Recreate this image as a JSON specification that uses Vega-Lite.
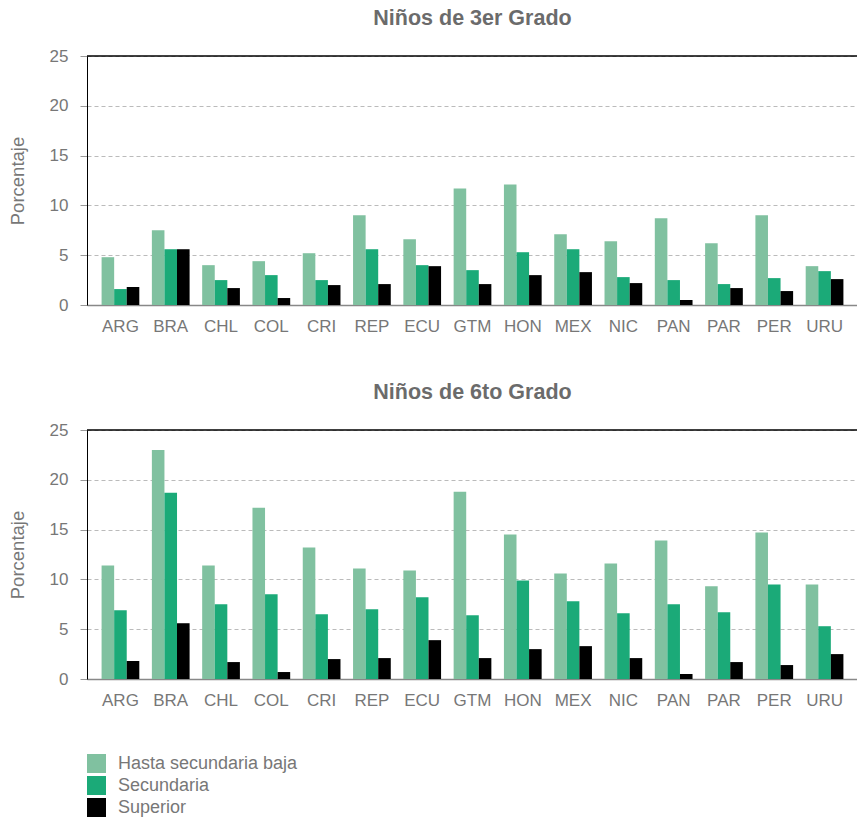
{
  "$schema": "https://vega.github.io/schema/vega-lite/v6.json",
  "padding": {"top": 7, "left": 8, "right": 0, "bottom": 0},
  "background": "white",
  "config": {
    "font": "Liberation Sans",
    "view": {"stroke": null},
    "title": {"fontSize": 21.5, "fontWeight": "bold", "color": "#6b6b6b", "anchor": "middle", "frame": "group", "offset": 18},
    "axis": {"labelFont": "Liberation Sans", "labelFontSize": 17, "labelColor": "#777777", "titleFont": "Liberation Sans", "titleFontSize": 18.5, "titleFontWeight": "normal", "titleColor": "#777777"},
    "legend": {"labelFont": "Liberation Sans", "labelFontSize": 18, "labelColor": "#777777", "labelLimit": 0},
    "concat": {"spacing": 47}
  },
  "data": {"values": [
    {"grado": "3", "pais": "ARG", "nivel": "Hasta secundaria baja", "valor": 4.8},
    {"grado": "3", "pais": "ARG", "nivel": "Secundaria", "valor": 1.6},
    {"grado": "3", "pais": "ARG", "nivel": "Superior", "valor": 1.8},
    {"grado": "3", "pais": "BRA", "nivel": "Hasta secundaria baja", "valor": 7.5},
    {"grado": "3", "pais": "BRA", "nivel": "Secundaria", "valor": 5.6},
    {"grado": "3", "pais": "BRA", "nivel": "Superior", "valor": 5.6},
    {"grado": "3", "pais": "CHL", "nivel": "Hasta secundaria baja", "valor": 4.0},
    {"grado": "3", "pais": "CHL", "nivel": "Secundaria", "valor": 2.5},
    {"grado": "3", "pais": "CHL", "nivel": "Superior", "valor": 1.7},
    {"grado": "3", "pais": "COL", "nivel": "Hasta secundaria baja", "valor": 4.4},
    {"grado": "3", "pais": "COL", "nivel": "Secundaria", "valor": 3.0},
    {"grado": "3", "pais": "COL", "nivel": "Superior", "valor": 0.7},
    {"grado": "3", "pais": "CRI", "nivel": "Hasta secundaria baja", "valor": 5.2},
    {"grado": "3", "pais": "CRI", "nivel": "Secundaria", "valor": 2.5},
    {"grado": "3", "pais": "CRI", "nivel": "Superior", "valor": 2.0},
    {"grado": "3", "pais": "REP", "nivel": "Hasta secundaria baja", "valor": 9.0},
    {"grado": "3", "pais": "REP", "nivel": "Secundaria", "valor": 5.6},
    {"grado": "3", "pais": "REP", "nivel": "Superior", "valor": 2.1},
    {"grado": "3", "pais": "ECU", "nivel": "Hasta secundaria baja", "valor": 6.6},
    {"grado": "3", "pais": "ECU", "nivel": "Secundaria", "valor": 4.0},
    {"grado": "3", "pais": "ECU", "nivel": "Superior", "valor": 3.9},
    {"grado": "3", "pais": "GTM", "nivel": "Hasta secundaria baja", "valor": 11.7},
    {"grado": "3", "pais": "GTM", "nivel": "Secundaria", "valor": 3.5},
    {"grado": "3", "pais": "GTM", "nivel": "Superior", "valor": 2.1},
    {"grado": "3", "pais": "HON", "nivel": "Hasta secundaria baja", "valor": 12.1},
    {"grado": "3", "pais": "HON", "nivel": "Secundaria", "valor": 5.3},
    {"grado": "3", "pais": "HON", "nivel": "Superior", "valor": 3.0},
    {"grado": "3", "pais": "MEX", "nivel": "Hasta secundaria baja", "valor": 7.1},
    {"grado": "3", "pais": "MEX", "nivel": "Secundaria", "valor": 5.6},
    {"grado": "3", "pais": "MEX", "nivel": "Superior", "valor": 3.3},
    {"grado": "3", "pais": "NIC", "nivel": "Hasta secundaria baja", "valor": 6.4},
    {"grado": "3", "pais": "NIC", "nivel": "Secundaria", "valor": 2.8},
    {"grado": "3", "pais": "NIC", "nivel": "Superior", "valor": 2.2},
    {"grado": "3", "pais": "PAN", "nivel": "Hasta secundaria baja", "valor": 8.7},
    {"grado": "3", "pais": "PAN", "nivel": "Secundaria", "valor": 2.5},
    {"grado": "3", "pais": "PAN", "nivel": "Superior", "valor": 0.5},
    {"grado": "3", "pais": "PAR", "nivel": "Hasta secundaria baja", "valor": 6.2},
    {"grado": "3", "pais": "PAR", "nivel": "Secundaria", "valor": 2.1},
    {"grado": "3", "pais": "PAR", "nivel": "Superior", "valor": 1.7},
    {"grado": "3", "pais": "PER", "nivel": "Hasta secundaria baja", "valor": 9.0},
    {"grado": "3", "pais": "PER", "nivel": "Secundaria", "valor": 2.7},
    {"grado": "3", "pais": "PER", "nivel": "Superior", "valor": 1.4},
    {"grado": "3", "pais": "URU", "nivel": "Hasta secundaria baja", "valor": 3.9},
    {"grado": "3", "pais": "URU", "nivel": "Secundaria", "valor": 3.4},
    {"grado": "3", "pais": "URU", "nivel": "Superior", "valor": 2.6},
    {"grado": "6", "pais": "ARG", "nivel": "Hasta secundaria baja", "valor": 11.4},
    {"grado": "6", "pais": "ARG", "nivel": "Secundaria", "valor": 6.9},
    {"grado": "6", "pais": "ARG", "nivel": "Superior", "valor": 1.8},
    {"grado": "6", "pais": "BRA", "nivel": "Hasta secundaria baja", "valor": 23.0},
    {"grado": "6", "pais": "BRA", "nivel": "Secundaria", "valor": 18.7},
    {"grado": "6", "pais": "BRA", "nivel": "Superior", "valor": 5.6},
    {"grado": "6", "pais": "CHL", "nivel": "Hasta secundaria baja", "valor": 11.4},
    {"grado": "6", "pais": "CHL", "nivel": "Secundaria", "valor": 7.5},
    {"grado": "6", "pais": "CHL", "nivel": "Superior", "valor": 1.7},
    {"grado": "6", "pais": "COL", "nivel": "Hasta secundaria baja", "valor": 17.2},
    {"grado": "6", "pais": "COL", "nivel": "Secundaria", "valor": 8.5},
    {"grado": "6", "pais": "COL", "nivel": "Superior", "valor": 0.7},
    {"grado": "6", "pais": "CRI", "nivel": "Hasta secundaria baja", "valor": 13.2},
    {"grado": "6", "pais": "CRI", "nivel": "Secundaria", "valor": 6.5},
    {"grado": "6", "pais": "CRI", "nivel": "Superior", "valor": 2.0},
    {"grado": "6", "pais": "REP", "nivel": "Hasta secundaria baja", "valor": 11.1},
    {"grado": "6", "pais": "REP", "nivel": "Secundaria", "valor": 7.0},
    {"grado": "6", "pais": "REP", "nivel": "Superior", "valor": 2.1},
    {"grado": "6", "pais": "ECU", "nivel": "Hasta secundaria baja", "valor": 10.9},
    {"grado": "6", "pais": "ECU", "nivel": "Secundaria", "valor": 8.2},
    {"grado": "6", "pais": "ECU", "nivel": "Superior", "valor": 3.9},
    {"grado": "6", "pais": "GTM", "nivel": "Hasta secundaria baja", "valor": 18.8},
    {"grado": "6", "pais": "GTM", "nivel": "Secundaria", "valor": 6.4},
    {"grado": "6", "pais": "GTM", "nivel": "Superior", "valor": 2.1},
    {"grado": "6", "pais": "HON", "nivel": "Hasta secundaria baja", "valor": 14.5},
    {"grado": "6", "pais": "HON", "nivel": "Secundaria", "valor": 9.9},
    {"grado": "6", "pais": "HON", "nivel": "Superior", "valor": 3.0},
    {"grado": "6", "pais": "MEX", "nivel": "Hasta secundaria baja", "valor": 10.6},
    {"grado": "6", "pais": "MEX", "nivel": "Secundaria", "valor": 7.8},
    {"grado": "6", "pais": "MEX", "nivel": "Superior", "valor": 3.3},
    {"grado": "6", "pais": "NIC", "nivel": "Hasta secundaria baja", "valor": 11.6},
    {"grado": "6", "pais": "NIC", "nivel": "Secundaria", "valor": 6.6},
    {"grado": "6", "pais": "NIC", "nivel": "Superior", "valor": 2.1},
    {"grado": "6", "pais": "PAN", "nivel": "Hasta secundaria baja", "valor": 13.9},
    {"grado": "6", "pais": "PAN", "nivel": "Secundaria", "valor": 7.5},
    {"grado": "6", "pais": "PAN", "nivel": "Superior", "valor": 0.5},
    {"grado": "6", "pais": "PAR", "nivel": "Hasta secundaria baja", "valor": 9.3},
    {"grado": "6", "pais": "PAR", "nivel": "Secundaria", "valor": 6.7},
    {"grado": "6", "pais": "PAR", "nivel": "Superior", "valor": 1.7},
    {"grado": "6", "pais": "PER", "nivel": "Hasta secundaria baja", "valor": 14.7},
    {"grado": "6", "pais": "PER", "nivel": "Secundaria", "valor": 9.5},
    {"grado": "6", "pais": "PER", "nivel": "Superior", "valor": 1.4},
    {"grado": "6", "pais": "URU", "nivel": "Hasta secundaria baja", "valor": 9.5},
    {"grado": "6", "pais": "URU", "nivel": "Secundaria", "valor": 5.3},
    {"grado": "6", "pais": "URU", "nivel": "Superior", "valor": 2.5}
  ]},
  "vconcat": [
    {
      "title": {"text": "Niños de 3er Grado"},
      "width": 771,
      "height": 249,
      "transform": [{"filter": "datum.grado == '3'"}],
      "layer": [
        {
          "mark": {"type": "bar"},
          "encoding": {
            "x": {"field": "pais", "type": "nominal", "sort": null, "title": null,
                  "scale": {"paddingInner": 0.25, "paddingOuter": 0.29},
                  "axis": {"labelAngle": 0, "ticks": false, "labelPadding": 13, "domainColor": "#888888", "domainWidth": 1.5, "grid": false}},
            "xOffset": {"field": "nivel", "type": "nominal", "sort": ["Hasta secundaria baja", "Secundaria", "Superior"], "scale": {"paddingInner": 0, "paddingOuter": 0}},
            "y": {"field": "valor", "type": "quantitative", "title": "Porcentaje",
                  "scale": {"domain": [0, 25], "nice": false},
                  "axis": {"values": [0, 5, 10, 15, 20, 25], "domainColor": "#000000", "domainWidth": 1, "tickColor": "#999999", "tickSize": 7, "labelPadding": 12, "titlePadding": 22, "gridDash": [4, 3], "gridColor": "#bbbbbb"}},
            "color": {"field": "nivel", "type": "nominal", "title": null,
                      "scale": {"domain": ["Hasta secundaria baja", "Secundaria", "Superior"], "range": ["#80c1a0", "#1baa78", "#000000"]},
                      "legend": {"orient": "bottom", "direction": "vertical", "offset": 46, "symbolType": "square", "symbolSize": 361, "symbolStrokeWidth": 0, "labelOffset": 12, "rowPadding": 3}}
          }
        },
        {
          "transform": [{"aggregate": [{"op": "count", "as": "n"}]}],
          "mark": {"type": "rule", "color": "#000000", "strokeWidth": 1.5},
          "encoding": {"y": {"datum": 25}}
        }
      ]
    },
    {
      "title": {"text": "Niños de 6to Grado"},
      "width": 771,
      "height": 249,
      "transform": [{"filter": "datum.grado == '6'"}],
      "layer": [
        {
          "mark": {"type": "bar"},
          "encoding": {
            "x": {"field": "pais", "type": "nominal", "sort": null, "title": null,
                  "scale": {"paddingInner": 0.25, "paddingOuter": 0.29},
                  "axis": {"labelAngle": 0, "ticks": false, "labelPadding": 13, "domainColor": "#888888", "domainWidth": 1.5, "grid": false}},
            "xOffset": {"field": "nivel", "type": "nominal", "sort": ["Hasta secundaria baja", "Secundaria", "Superior"], "scale": {"paddingInner": 0, "paddingOuter": 0}},
            "y": {"field": "valor", "type": "quantitative", "title": "Porcentaje",
                  "scale": {"domain": [0, 25], "nice": false},
                  "axis": {"values": [0, 5, 10, 15, 20, 25], "domainColor": "#000000", "domainWidth": 1, "tickColor": "#999999", "tickSize": 7, "labelPadding": 12, "titlePadding": 22, "gridDash": [4, 3], "gridColor": "#bbbbbb"}},
            "color": {"field": "nivel", "type": "nominal", "title": null,
                      "scale": {"domain": ["Hasta secundaria baja", "Secundaria", "Superior"], "range": ["#80c1a0", "#1baa78", "#000000"]},
                      "legend": {"orient": "bottom", "direction": "vertical", "offset": 46, "symbolType": "square", "symbolSize": 361, "symbolStrokeWidth": 0, "labelOffset": 12, "rowPadding": 3}}
          }
        },
        {
          "transform": [{"aggregate": [{"op": "count", "as": "n"}]}],
          "mark": {"type": "rule", "color": "#000000", "strokeWidth": 1.5},
          "encoding": {"y": {"datum": 25}}
        }
      ]
    }
  ]
}
